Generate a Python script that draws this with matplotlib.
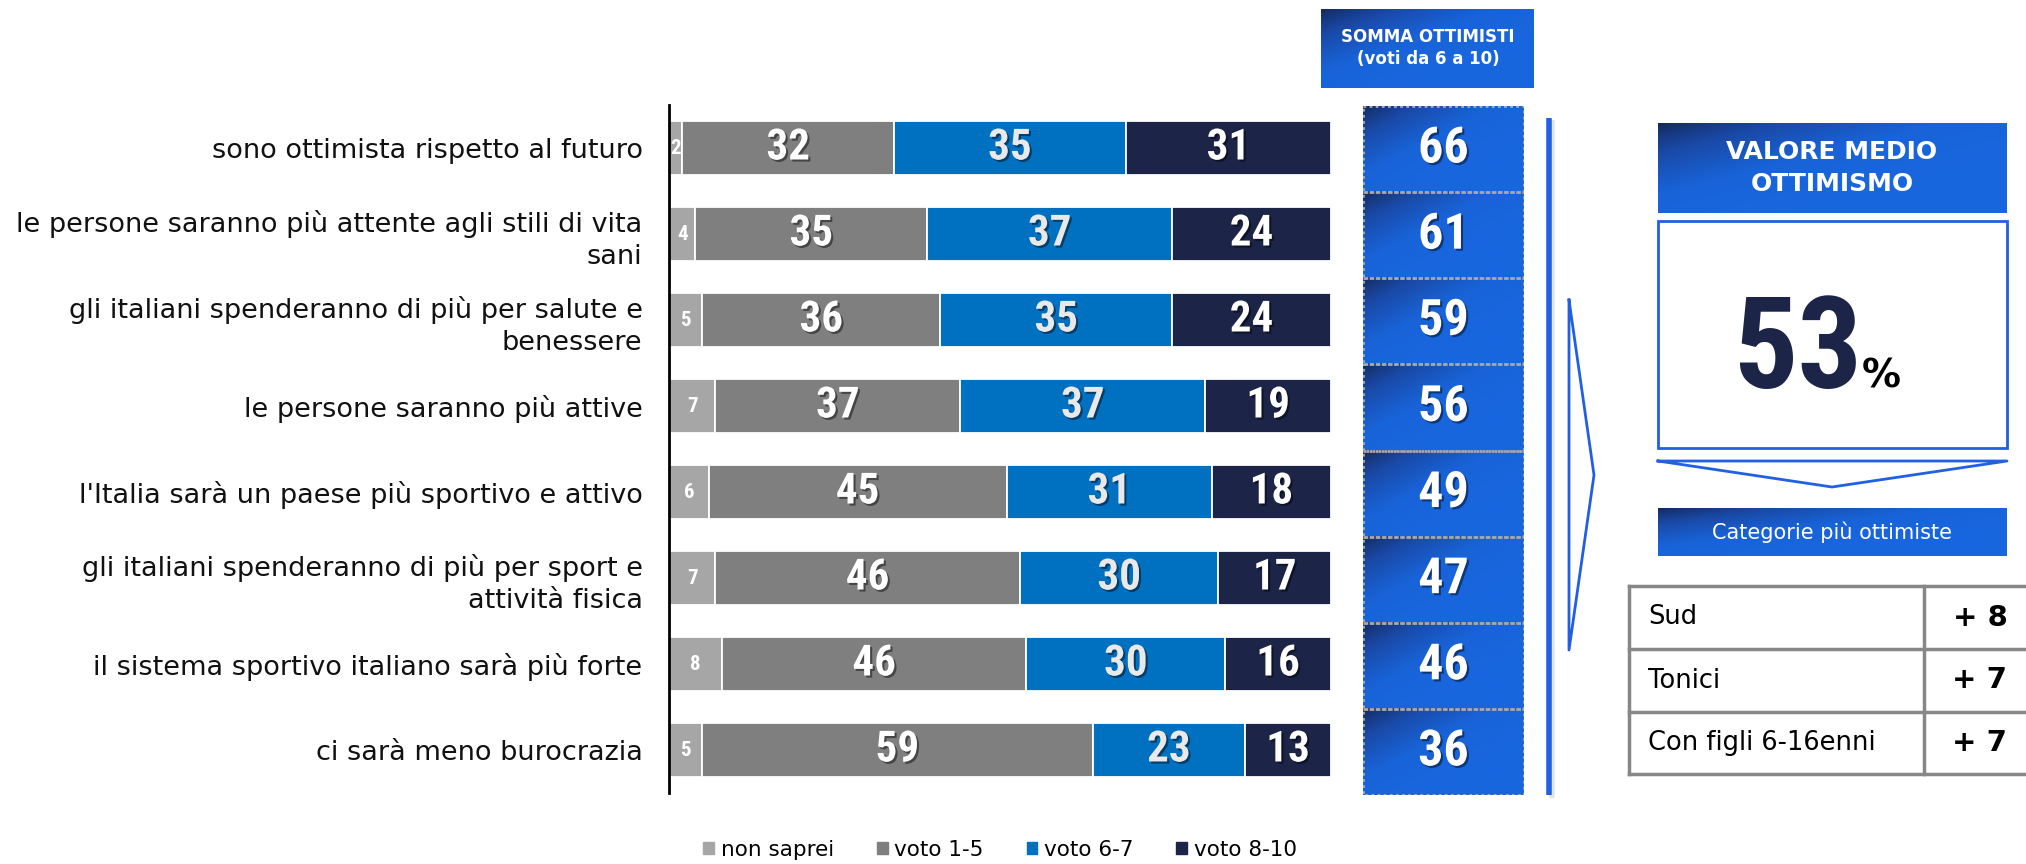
import matplotlib
matplotlib.use('Agg')
import matplotlib.pyplot as plt
import matplotlib.patheffects as pe
from matplotlib import font_manager
from matplotlib.colors import LinearSegmentedColormap
from matplotlib.patches import Rectangle, Patch
import numpy as np

# --- data ---
labels = [
    'sono ottimista rispetto al futuro',
    'le persone saranno più attente agli stili di vita\nsani',
    'gli italiani spenderanno di più per salute e\nbenessere',
    'le persone saranno più attive',
    "l'Italia sarà un paese più sportivo e attivo",
    'gli italiani spenderanno di più per sport e\nattività fisica',
    'il sistema sportivo italiano sarà più forte',
    'ci sarà meno burocrazia',
]
non_saprei = [2, 4, 5, 7, 6, 7, 8, 5]
voto_1_5 = [32, 35, 36, 37, 45, 46, 46, 59]
voto_6_7 = [35, 37, 35, 37, 31, 30, 30, 23]
voto_8_10 = [31, 24, 24, 19, 18, 17, 16, 13]
somma_ottimisti = [66, 61, 59, 56, 49, 47, 46, 36]
valore_medio = 53
categorie = ['Sud', 'Tonici', 'Con figli 6-16enni']
categorie_delta = [8, 7, 7]

series_names = ['non saprei', 'voto 1-5', 'voto 6-7', 'voto 8-10']
colors = ['#a6a6a6', '#7f7f7f', '#0070c0', '#1c2448']
num_colors = ['white', 'white', '#e9e9e9', 'white']

W, H = 2026, 864
LINE_BLUE = '#2160e0'

# condensed face for the numbers, whichever is installed
installed = {f.name for f in font_manager.fontManager.ttflist}
NARROW = 'DejaVu Sans'
for cand in ['Liberation Sans Narrow', 'Roboto Condensed', 'DejaVu Sans Condensed',
             'Open Sans Condensed', 'Roboto']:
    if cand in installed:
        NARROW = cand
        break
NARROW = [NARROW, 'DejaVu Sans']

blue_cmap = LinearSegmentedColormap.from_list(
    'hdr', ['#142a5e', '#1a4aa8', '#1863d8', '#1866de'])

shadow = [pe.SimplePatchShadow(offset=(1.5, -1.5), shadow_rgbFace='black', alpha=0.45),
          pe.Normal()]

fig = plt.figure(figsize=(W / 100, H / 100), dpi=100)


def fx(px):
    return px / W


def fy(px):
    return 1 - px / H


def grad(axis, x0, x1, y0, y1):
    # dark top-left corner fading to bright blue
    xs = np.linspace(0, 1, 60)
    ys = np.linspace(0, 1, 30)
    xx, yy = np.meshgrid(xs, ys)
    t = np.clip(0.75 * xx + 0.75 * yy, 0, 1) ** 0.8
    axis.imshow(t, cmap=blue_cmap, extent=(x0, x1, y1, y0), origin='upper',
                aspect='auto', vmin=0, vmax=1, interpolation='bilinear', zorder=1)


# --- main stacked bars ---
ax = fig.add_axes([fx(669), fy(793), fx(1331 - 669), (793 - 105) / H])
y = np.arange(len(labels))
left = np.zeros(len(labels))
for name, vals, col, ncol in zip(series_names,
                                 [non_saprei, voto_1_5, voto_6_7, voto_8_10],
                                 colors, num_colors):
    vals = np.array(vals, dtype=float)
    ax.barh(y, vals, left=left, height=0.63, color=col, edgecolor='white',
            linewidth=1.3, label=name)
    for yi, l, v in zip(y, left, vals):
        small = name == 'non saprei'
        ax.text(l + v / 2, yi, f'{int(v)}', ha='center', va='center',
                color=ncol, fontsize=15 if small else 31, fontweight='bold',
                family=NARROW, path_effects=None if small else shadow)
    left += vals

ax.set_xlim(0, 100)
ax.set_ylim(len(labels) - 0.5, -0.5)
ax.set_yticks(y)
ax.set_yticklabels(labels, fontsize=19.5, color='#111111', multialignment='right',
                   linespacing=1.3)
ax.tick_params(axis='y', length=0, pad=19)
ax.set_xticks([])
for s in ['top', 'right', 'bottom']:
    ax.spines[s].set_visible(False)
ax.spines['left'].set_linewidth(2)
ax.spines['left'].set_color('black')
ax.spines['left'].set_zorder(5)

fig.legend(handles=[Patch(color=c, label=n) for c, n in zip(colors, series_names)],
           loc='center', bbox_to_anchor=(fx(1000), fy(850)), ncol=4,
           frameon=False, fontsize=15.5, handlelength=0.5, handleheight=0.5,
           handletextpad=0.3, columnspacing=2.0)

# --- somma ottimisti column ---
ax2 = fig.add_axes([fx(1363), fy(795), fx(1524 - 1363), (795 - 106) / H])
for i, v in enumerate(somma_ottimisti):
    grad(ax2, 0, 1, i - 0.5, i + 0.5)
    ax2.add_patch(Rectangle((0, i - 0.5), 1, 1, fill=False, edgecolor='#a8a8a8',
                            linestyle=(0, (1, 1.2)), linewidth=2, zorder=3))
    ax2.text(0.5, i, f'{v}', ha='center', va='center', color='white',
             fontsize=36, fontweight='bold', family=NARROW, path_effects=shadow,
             zorder=4)
ax2.set_xlim(0, 1)
ax2.set_ylim(len(somma_ottimisti) - 0.5, -0.5)
ax2.axis('off')

# --- overlay for boxes / decorations ---
ov = fig.add_axes([0, 0, 1, 1], zorder=-1)
ov.patch.set_alpha(0)

grad(ov, 1321, 1534, 9, 88)
ov.text(1428, 48, 'SOMMA OTTIMISTI\n(voti da 6 a 10)', ha='center', va='center',
        color='white', fontsize=12, fontweight='bold', linespacing=1.35, zorder=3)

# vertical separator with soft shadow
ov.plot([1552, 1552], [120, 798], color='#d0d0d0', lw=4, alpha=0.6, zorder=2,
        solid_capstyle='butt')
ov.plot([1549, 1549], [118, 795], color=LINE_BLUE, lw=4, zorder=3,
        solid_capstyle='butt')

# right pointing thin chevron
ov.plot([1569, 1594, 1569, 1569], [300, 475, 650, 300], color=LINE_BLUE, lw=2,
        zorder=3)

# valore medio
grad(ov, 1658, 2007, 123, 213)
ov.text(1832, 168, 'VALORE MEDIO\nOTTIMISMO', ha='center', va='center',
        color='white', fontsize=18, fontweight='bold', linespacing=1.4, zorder=3)
ov.add_patch(Rectangle((1658, 221), 2007 - 1658, 448 - 221, fill=False,
                       edgecolor=LINE_BLUE, lw=2, zorder=3))
ov.text(1862, 388, f'{valore_medio}', ha='right', va='baseline', color='#1c2448',
        fontsize=92, fontweight='bold', family=NARROW, zorder=3)
ov.text(1862, 388, '%', ha='left', va='baseline', color='black',
        fontsize=28, fontweight='bold', zorder=3)

# down pointing thin chevron
ov.plot([1658, 1832, 2007, 1658], [461, 487, 461, 461], color=LINE_BLUE, lw=2,
        zorder=3)

grad(ov, 1658, 2007, 508, 556)
ov.text(1832, 532, 'Categorie più ottimiste', ha='center', va='center',
        color='white', fontsize=15, zorder=3)

# table
row_edges = [586, 649, 712, 774]
grey = '#878787'
for yy in row_edges:
    ov.plot([1629, 2030], [yy, yy], color=grey, lw=2.5, zorder=3)
for xx in [1629, 1924]:
    ov.plot([xx, xx], [586, 774], color=grey, lw=2.5, zorder=3)
for i, (c, d) in enumerate(zip(categorie, categorie_delta)):
    yc = (row_edges[i] + row_edges[i + 1]) / 2
    ov.text(1648, yc, c, ha='left', va='center', fontsize=18.5, color='black',
            zorder=3)
    ov.text(1980, yc, f'+ {d}', ha='center', va='center', fontsize=21,
            fontweight='bold', color='black', zorder=3)

ov.set_xlim(0, W)
ov.set_ylim(H, 0)
ov.set_aspect('auto')
ov.axis('off')

fig.savefig('out.png', dpi=100, facecolor='white')
